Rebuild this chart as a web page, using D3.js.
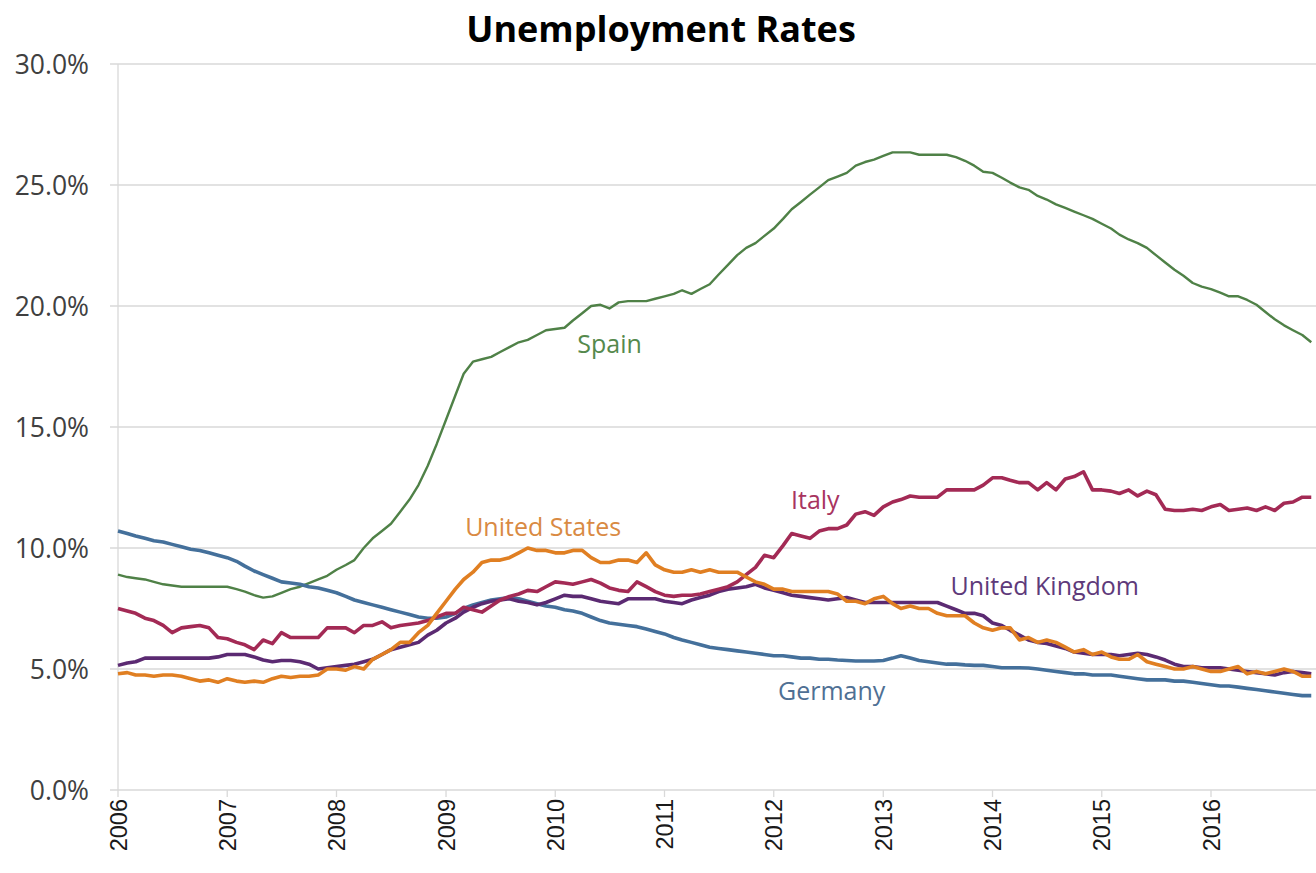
<!DOCTYPE html>
<html>
<head>
<meta charset="utf-8">
<script src="https://cdn.jsdelivr.net/npm/d3@7"></script>
<style>
  html, body { margin: 0; padding: 0; background: #fff; }
  svg { display: block; }
  .title { font-family: "Open Sans", Lato, sans-serif; font-weight: 700; }
  .ylab { font-family: "Open Sans", Lato, sans-serif; fill: #404040; }
  .xlab { font-family: "Liberation Sans", Arial, sans-serif; fill: #1a1a1a; }
  .series-label { font-family: "Open Sans", Lato, sans-serif; }
</style>
</head>
<body>
<div id="chart"></div>
<script>
// monthly unemployment rates (%), Jan 2006 .. Dec 2016
const startMonth = new Date(2006, 0, 1);

const spain = [
  8.9, 8.8, 8.75, 8.7, 8.6, 8.5, 8.45, 8.4, 8.4, 8.4, 8.4, 8.4,
  8.4, 8.3, 8.2, 8.05, 7.95, 8.0, 8.15, 8.3, 8.4, 8.55, 8.7, 8.85,
  9.1, 9.3, 9.5, 10.0, 10.4, 10.7, 11.0, 11.5, 12.0, 12.6, 13.4, 14.3,
  15.3, 16.3, 17.2, 17.7, 17.8, 17.9, 18.1, 18.3, 18.5, 18.6, 18.8, 19.0,
  19.05, 19.1, 19.4, 19.7, 20.0, 20.05, 19.9, 20.15, 20.2, 20.2, 20.2, 20.3,
  20.4, 20.5, 20.65, 20.5, 20.7, 20.9, 21.3, 21.7, 22.1, 22.4, 22.6, 22.9,
  23.2, 23.6, 24.0, 24.3, 24.6, 24.9, 25.2, 25.35, 25.5, 25.8, 25.95, 26.05,
  26.2, 26.35, 26.35, 26.35, 26.25, 26.25, 26.25, 26.25, 26.15, 26.0, 25.8, 25.55,
  25.5, 25.3, 25.1, 24.9, 24.8, 24.55, 24.4, 24.2, 24.05, 23.9, 23.75, 23.6,
  23.4, 23.2, 22.95, 22.75, 22.6, 22.4, 22.1, 21.8, 21.5, 21.25, 20.95, 20.8,
  20.7, 20.55, 20.4, 20.4, 20.25, 20.05, 19.75, 19.45, 19.2, 19.0, 18.8, 18.5
];

const italy = [
  7.5, 7.4, 7.3, 7.1, 7.0, 6.8, 6.5, 6.7, 6.75, 6.8, 6.7, 6.3,
  6.25, 6.1, 6.0, 5.8, 6.2, 6.05, 6.5, 6.3, 6.3, 6.3, 6.3, 6.7,
  6.7, 6.7, 6.5, 6.8, 6.8, 6.95, 6.7, 6.8, 6.85, 6.9, 7.0, 7.15,
  7.3, 7.3, 7.55, 7.45, 7.35, 7.6, 7.85, 8.0, 8.1, 8.25, 8.2, 8.4,
  8.6, 8.55, 8.5, 8.6, 8.7, 8.55, 8.35, 8.25, 8.2, 8.6, 8.4, 8.2,
  8.05, 8.0, 8.05, 8.05, 8.1, 8.2, 8.3, 8.4, 8.6, 8.9, 9.2, 9.7,
  9.6, 10.1, 10.6, 10.5, 10.4, 10.7, 10.8, 10.8, 10.95, 11.4, 11.5, 11.35,
  11.7, 11.9, 12.0, 12.15, 12.1, 12.1, 12.1, 12.4, 12.4, 12.4, 12.4, 12.6,
  12.9, 12.9, 12.8, 12.7, 12.7, 12.4, 12.7, 12.4, 12.85, 12.95, 13.15, 12.4,
  12.4, 12.35, 12.25, 12.4, 12.15, 12.35, 12.2, 11.6, 11.55, 11.55, 11.6, 11.55,
  11.7, 11.8, 11.55, 11.6, 11.65, 11.55, 11.7, 11.55, 11.85, 11.9, 12.1, 12.1
];

const unitedStates = [
  4.8, 4.85, 4.75, 4.75, 4.7, 4.75, 4.75, 4.7, 4.6, 4.5, 4.55, 4.45,
  4.6, 4.5, 4.45, 4.5, 4.45, 4.6, 4.7, 4.65, 4.7, 4.7, 4.75, 5.0,
  5.0, 4.95, 5.1, 5.0, 5.4, 5.6, 5.8, 6.1, 6.1, 6.5, 6.8, 7.3,
  7.8, 8.3, 8.7, 9.0, 9.4, 9.5, 9.5, 9.6, 9.8, 10.0, 9.9, 9.9,
  9.8, 9.8, 9.9, 9.9, 9.6, 9.4, 9.4, 9.5, 9.5, 9.4, 9.8, 9.3,
  9.1, 9.0, 9.0, 9.1, 9.0, 9.1, 9.0, 9.0, 9.0, 8.8, 8.6, 8.5,
  8.3, 8.3, 8.2, 8.2, 8.2, 8.2, 8.2, 8.1, 7.8, 7.8, 7.7, 7.9,
  8.0, 7.7, 7.5, 7.6, 7.5, 7.5, 7.3, 7.2, 7.2, 7.2, 6.9, 6.7,
  6.6, 6.7, 6.7, 6.2, 6.3, 6.1, 6.2, 6.1, 5.9, 5.7, 5.8, 5.6,
  5.7, 5.5, 5.4, 5.4, 5.6, 5.3, 5.2, 5.1, 5.0, 5.0, 5.1, 5.0,
  4.9, 4.9, 5.0, 5.1, 4.8, 4.9, 4.8, 4.9, 5.0, 4.9, 4.7, 4.7
];

const unitedKingdom = [
  5.15, 5.25, 5.3, 5.45, 5.45, 5.45, 5.45, 5.45, 5.45, 5.45, 5.45, 5.5,
  5.6, 5.6, 5.6, 5.5, 5.37, 5.3, 5.35, 5.35, 5.3, 5.2, 5.0, 5.05,
  5.1, 5.15, 5.2, 5.3, 5.4, 5.6, 5.8, 5.9, 6.0, 6.1, 6.4, 6.6,
  6.9, 7.1, 7.35, 7.55, 7.7, 7.8, 7.85, 7.9, 7.8, 7.75, 7.65, 7.75,
  7.9, 8.05, 8.0, 8.0, 7.9, 7.8, 7.75, 7.7, 7.9, 7.9, 7.9, 7.9,
  7.8, 7.75, 7.7, 7.85, 7.95, 8.05, 8.2, 8.3, 8.35, 8.4, 8.5, 8.35,
  8.25, 8.15, 8.05, 8.0, 7.95, 7.9, 7.85, 7.9, 7.95, 7.85, 7.75, 7.75,
  7.75, 7.75, 7.75, 7.75, 7.75, 7.75, 7.75, 7.6, 7.45, 7.3, 7.3, 7.2,
  6.9, 6.8, 6.6, 6.4, 6.2, 6.1, 6.05, 5.95, 5.85, 5.7, 5.65, 5.6,
  5.6, 5.6, 5.55, 5.6, 5.65, 5.6, 5.5, 5.37, 5.2, 5.1, 5.1, 5.05,
  5.05, 5.05, 5.0, 4.95, 4.9, 4.85, 4.8, 4.75, 4.85, 4.9, 4.85, 4.8
];

const germany = [
  10.7, 10.6, 10.5, 10.4, 10.3, 10.25, 10.15, 10.05, 9.95, 9.9, 9.8, 9.7,
  9.6, 9.45, 9.25, 9.05, 8.9, 8.75, 8.6, 8.55, 8.5, 8.4, 8.35, 8.25,
  8.15, 8.0, 7.85, 7.75, 7.65, 7.55, 7.45, 7.35, 7.25, 7.15, 7.1, 7.1,
  7.15, 7.3, 7.5, 7.65, 7.75, 7.85, 7.9, 7.95, 7.9, 7.8, 7.7, 7.6,
  7.55, 7.45, 7.4, 7.3, 7.15, 7.0, 6.9, 6.85, 6.8, 6.75, 6.65, 6.55,
  6.45, 6.3, 6.2, 6.1, 6.0, 5.9, 5.85, 5.8, 5.75, 5.7, 5.65, 5.6,
  5.55, 5.55, 5.5, 5.45, 5.45, 5.4, 5.4, 5.37, 5.35, 5.33, 5.33, 5.33,
  5.35, 5.45, 5.55, 5.45, 5.35, 5.3, 5.25, 5.2, 5.2, 5.17, 5.15, 5.15,
  5.1, 5.05, 5.05, 5.05, 5.04, 5.0, 4.95, 4.9, 4.85, 4.8, 4.8, 4.75,
  4.75, 4.75, 4.7, 4.65, 4.6, 4.55, 4.55, 4.55, 4.5, 4.5, 4.45, 4.4,
  4.35, 4.3, 4.3, 4.25, 4.2, 4.15, 4.1, 4.05, 4.0, 3.95, 3.9, 3.9
];

const yTicks = [0, 5, 10, 15, 20, 25, 30];
const yearTicks = d3.range(2006, 2017);

const seriesNames = ["Spain", "Italy", "United States", "United Kingdom", "Germany"];
const seriesColors = ["#4f8147", "#a32a55", "#e07f22", "#5b2a72", "#44709b"];
const labelColors = ["#55894c", "#a8345f", "#d98a43", "#5e3a7a", "#4f7094"];

const width = 1316, height = 873;
const margin = { top: 64, left: 118, bottom: 83 };

const svg = d3.select("#chart").append("svg")
  .attr("width", width)
  .attr("height", height);

// 2006 -> 118px, 2016 -> 1211px
const x = d3.scaleTime()
  .domain([new Date(2006, 0, 1), new Date(2016, 0, 1)])
  .range([margin.left, 1211]);

const y = d3.scaleLinear()
  .domain([0, 30])
  .range([height - margin.bottom, margin.top]);

// gridlines
svg.append("g")
  .selectAll("line")
  .data(yTicks)
  .join("line")
  .attr("x1", margin.left - 8)
  .attr("x2", width)
  .attr("y1", (d) => y(d))
  .attr("y2", (d) => y(d))
  .attr("stroke", "#d9d9d9")
  .attr("stroke-width", 1.3);

// y axis line
svg.append("line")
  .attr("x1", margin.left).attr("x2", margin.left)
  .attr("y1", y(30)).attr("y2", y(0))
  .attr("stroke", "#d9d9d9")
  .attr("stroke-width", 1.3);

// y labels
svg.append("g")
  .selectAll("text")
  .data(yTicks)
  .join("text")
  .attr("class", "ylab")
  .attr("x", 89)
  .attr("y", (d) => y(d))
  .attr("dy", "0.36em")
  .attr("text-anchor", "end")
  .attr("font-size", 26.5)
  .text((d) => d3.format(".1f")(d) + "%");

// x ticks + rotated year labels
const xg = svg.append("g");
xg.selectAll("line")
  .data(yearTicks)
  .join("line")
  .attr("x1", (d) => x(new Date(d, 0, 1)))
  .attr("x2", (d) => x(new Date(d, 0, 1)))
  .attr("y1", y(0))
  .attr("y2", y(0) + 7)
  .attr("stroke", "#d9d9d9")
  .attr("stroke-width", 1.3);

xg.selectAll("text")
  .data(yearTicks)
  .join("text")
  .attr("class", "xlab")
  .attr("font-size", 23.5)
  .attr("text-anchor", "end")
  .attr("transform", (d) => `translate(${x(new Date(d, 0, 1)) + 8.5},${y(0) + 9}) rotate(-90)`)
  .text((d) => d);

// lines
const allSeries = [spain, italy, unitedStates, unitedKingdom, germany];
const line = d3.line()
  .x((d, i) => x(d3.timeMonth.offset(startMonth, i)))
  .y((d) => y(d));

// draw Spain thin, the rest heavier; US over UK like the original
const drawOrder = [0, 4, 3, 1, 2];
svg.append("g")
  .selectAll("path")
  .data(drawOrder)
  .join("path")
  .attr("d", (k) => line(allSeries[k]))
  .attr("fill", "none")
  .attr("stroke", (k) => seriesColors[k])
  .attr("stroke-width", (k) => (k === 0 ? 2.4 : 3.6))
  .attr("stroke-linejoin", "round");

// series labels, placed at a (month index, value) anchor
const labelAnchors = [
  { k: 0, m: 54, v: 18.05 },
  { k: 1, m: 76.6, v: 11.6 },
  { k: 2, m: 46.7, v: 10.5 },
  { k: 3, m: 101.8, v: 8.05 },
  { k: 4, m: 78.4, v: 3.72 },
];
const monthWidth = (x(new Date(2007, 0, 1)) - x(startMonth)) / 12;
svg.append("g")
  .selectAll("text")
  .data(labelAnchors)
  .join("text")
  .attr("class", "series-label")
  .attr("x", (d) => x(startMonth) + monthWidth * d.m)
  .attr("y", (d) => y(d.v))
  .attr("text-anchor", "middle")
  .attr("font-size", 25)
  .attr("fill", (d) => labelColors[d.k])
  .text((d) => seriesNames[d.k]);

// title
svg.append("text")
  .attr("class", "title")
  .attr("x", 661)
  .attr("y", 42)
  .attr("text-anchor", "middle")
  .attr("font-size", 36)
  .attr("fill", "#000")
  .text("Unemployment Rates");
</script>
</body>
</html>
